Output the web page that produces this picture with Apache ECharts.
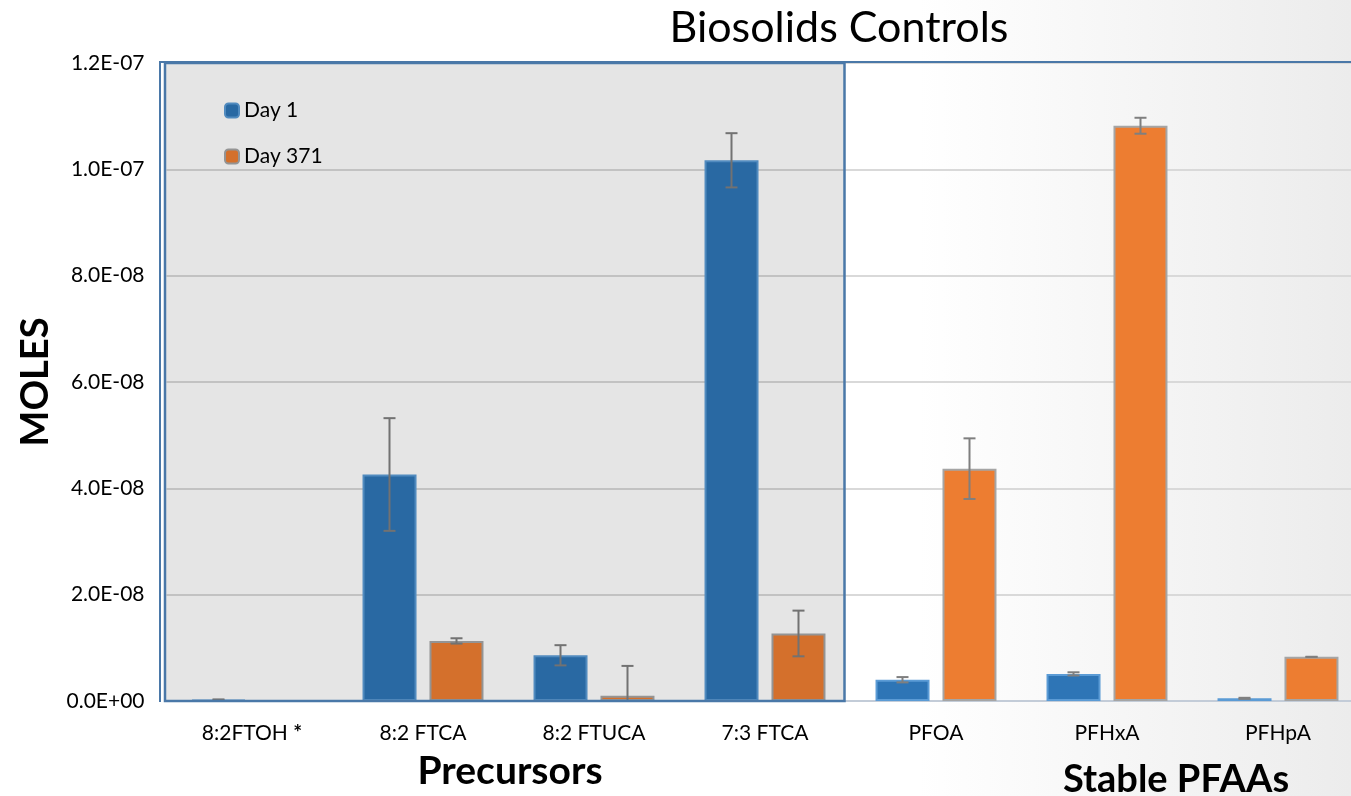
<!DOCTYPE html>
<html>
<head>
<meta charset="utf-8">
<script src="https://cdn.jsdelivr.net/npm/echarts@6/dist/echarts.min.js"></script>
<style>
    html, body { margin: 0; padding: 0; }
    #chart {
        width: 1351px; height: 796px;
        background: linear-gradient(to right, #ffffff 0%, #ffffff 68%, #ececec 100%);
    }
</style>
</head>
<body>
<div id="chart"></div>
<script>
// categories
var categories = ['8:2FTOH *', '8:2 FTCA', '8:2 FTUCA', '7:3 FTCA', 'PFOA', 'PFHxA', 'PFHpA'];

// moles
var day1 = [0.02e-8, 4.26e-8, 0.86e-8, 10.17e-8, 0.40e-8, 0.51e-8, 0.05e-8];
var day1Err = [0.01e-8, 1.06e-8, 0.19e-8, 0.51e-8, 0.05e-8, 0.03e-8, 0.01e-8];
var day371 = [null, 1.13e-8, 0.10e-8, 1.27e-8, 4.37e-8, 10.82e-8, 0.83e-8];
var day371Err = [null, 0.05e-8, 0.56e-8, 0.43e-8, 0.57e-8, 0.15e-8, 0];

var FONT = 'Lato';

function sci(v) {
    if (v === 0) return '0.0E+00';
    var s = v.toExponential(1).split('e');
    var e = parseInt(s[1], 10);
    var a = Math.abs(e);
    return s[0] + 'E' + (e < 0 ? '-' : '+') + (a < 10 ? '0' : '') + a;
}

// error bar data: [category index, value, error]
function errData(vals, errs) {
    var out = [];
    for (var i = 0; i < vals.length; i++) {
        if (vals[i] == null || errs[i] == null) continue;
        out.push([i, vals[i], errs[i]]);
    }
    return out;
}

function errorBar(offset) {
    return function (params, api) {
        var x = api.coord([api.value(0), 0])[0] + offset;
        var v = api.value(1), e = api.value(2);
        var hi = api.coord([api.value(0), v + e])[1];
        var lo = api.coord([api.value(0), Math.max(0, v - e)])[1];
        var st = {stroke: '#7f7f7f', lineWidth: 2};
        return {
            type: 'group',
            children: [
                {type: 'line', shape: {x1: x, y1: hi, x2: x, y2: lo}, style: st},
                {type: 'line', shape: {x1: x - 6, y1: hi, x2: x + 6, y2: hi}, style: st},
                {type: 'line', shape: {x1: x - 6, y1: lo, x2: x + 6, y2: lo}, style: st}
            ]
        };
    };
}

var myChart = echarts.init(document.getElementById('chart'));

option = {
    animation: false,
    textStyle: {fontFamily: FONT},
    title: [
        {
            text: 'Biosolids Controls',
            left: 834,
            textAlign: 'center',
            top: 2,
            textStyle: {fontFamily: FONT, fontSize: 43, fontWeight: 'normal', color: '#000'}
        },
        {
            text: 'Precursors',
            left: 505,
            textAlign: 'center',
            top: 747,
            textStyle: {fontFamily: FONT, fontSize: 39, fontWeight: 'bold', color: '#000'}
        },
        {
            text: 'Stable PFAAs',
            left: 1171,
            textAlign: 'center',
            top: 756,
            textStyle: {fontFamily: FONT, fontSize: 38, fontWeight: 'bold', color: '#000'}
        }
    ],
    legend: {
        data: ['Day 1', 'Day 371'],
        orient: 'vertical',
        left: 224,
        top: 100,
        padding: 0,
        itemWidth: 14,
        itemHeight: 14,
        itemGap: 25,
        textStyle: {fontFamily: FONT, fontSize: 21, color: '#000', lineHeight: 20}
    },
    grid: {
        left: 166.5,
        width: 1197,
        top: 63,
        bottom: 95,
        outerBoundsMode: 'none'
    },
    xAxis: {
        type: 'category',
        data: categories,
        axisLine: {lineStyle: {color: '#c3ccd8', width: 2}},
        axisTick: {show: false},
        axisLabel: {
            interval: 0,
            margin: 22,
            fontFamily: FONT,
            fontSize: 21,
            color: '#000',
            formatter: function (v) {
                if (v.slice(-1) === '*') return v.slice(0, -1) + '{b|*}';
                return v;
            },
            rich: {b: {fontFamily: FONT, fontSize: 21, fontWeight: 'bold', color: '#000'}}
        }
    },
    yAxis: {
        type: 'value',
        min: 0,
        max: 1.2e-7,
        interval: 2e-8,
        name: 'MOLES',
        nameLocation: 'middle',
        nameRotate: 90,
        nameGap: 112,
        nameTextStyle: {fontFamily: FONT, fontSize: 38, fontWeight: 'bold', color: '#000'},
        axisLine: {show: false},
        axisTick: {show: false},
        axisLabel: {
            margin: 22,
            fontFamily: FONT,
            fontSize: 21,
            color: '#000',
            formatter: sci
        },
        splitLine: {lineStyle: {color: '#d9d9d9', width: 2}}
    },
    series: [
        {
            name: 'Day 1',
            type: 'bar',
            data: day1,
            barWidth: 54,
            barGap: '24%',
            itemStyle: {color: '#2e75b6', borderColor: '#5b9bd5', borderWidth: 2}
        },
        {
            name: 'Day 371',
            type: 'bar',
            data: day371,
            barWidth: 54,
            barGap: '24%',
            itemStyle: {color: '#ed7d31', borderColor: '#a5a5a5', borderWidth: 2}
        },
        {
            name: 'err1',
            type: 'custom',
            renderItem: errorBar(-33.5),
            data: errData(day1, day1Err),
            z: 5
        },
        {
            name: 'err371',
            type: 'custom',
            renderItem: errorBar(33.5),
            data: errData(day371, day371Err),
            z: 5
        }
    ]
};
myChart.setOption(option);

// shaded "Precursors" box and blue frame, placed from the axis scale
var c0 = myChart.convertToPixel({xAxisIndex: 0}, 0);
var c1 = myChart.convertToPixel({xAxisIndex: 0}, 1);
var c3 = myChart.convertToPixel({xAxisIndex: 0}, 3);
var band = c1 - c0;
var yTop = myChart.convertToPixel({yAxisIndex: 0}, 1.2e-7);
var yBot = myChart.convertToPixel({yAxisIndex: 0}, 0);
var boxL = c0 - band / 2 - 1.5;
var boxR = c3 + band / 2 - 6;

myChart.setOption({
    graphic: [
        {
            type: 'rect',
            z: 100,
            silent: true,
            shape: {x: boxL, y: yTop, width: boxR - boxL, height: yBot - yTop},
            style: {fill: 'rgba(0,0,0,0.1)', stroke: '#4a78a8', lineWidth: 2.5}
        },
        {
            type: 'polyline',
            z: 100,
            silent: true,
            shape: {points: [[boxL - 5, yBot + 1], [boxL - 5, yTop - 1], [1351, yTop - 1]]},
            style: {fill: null, stroke: '#4a78a8', lineWidth: 2}
        }
    ]
});
</script>
</body>
</html>
